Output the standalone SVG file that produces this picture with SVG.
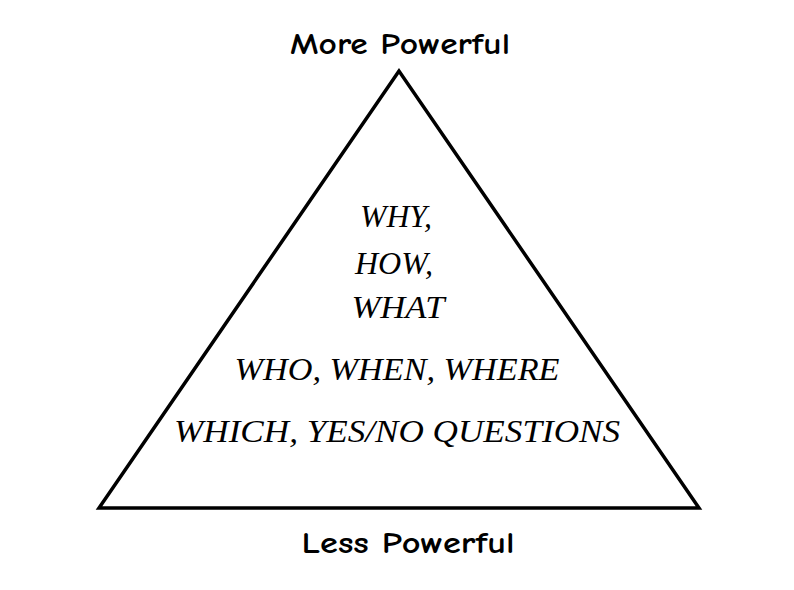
<svg xmlns="http://www.w3.org/2000/svg" width="794" height="590" viewBox="0 0 794 590">
<style>
.lbl{font-family:"Comic Neue","DejaVu Sans","Liberation Sans",sans-serif;font-size:30px;font-weight:bold;fill:#000;text-anchor:middle}
.q{font-family:"Liberation Serif","Times New Roman",serif;font-style:italic;fill:#000;text-anchor:middle}
</style>
<rect width="794" height="590" fill="#fff"/>
<g id="pyramid">
<polygon points="399,71 99,508 699,508" fill="#fff" stroke="#000" stroke-width="3.5" stroke-linejoin="miter"/>
</g>
<g id="top-label"><text class="lbl" x="400" y="54" textLength="220" lengthAdjust="spacingAndGlyphs">More Powerful</text></g>
<g id="bottom-label"><text class="lbl" x="408" y="553" textLength="213" lengthAdjust="spacingAndGlyphs">Less Powerful</text></g>
<g id="level-top">
<text class="q" x="396" y="227" font-size="31" textLength="72" lengthAdjust="spacingAndGlyphs">WHY,</text>
<text class="q" x="394" y="274" font-size="31" textLength="78" lengthAdjust="spacingAndGlyphs">HOW,</text>
<text class="q" x="398" y="318" font-size="31" textLength="93" lengthAdjust="spacingAndGlyphs">WHAT</text>
</g>
<g id="level-mid"><text class="q" x="397" y="380" font-size="31" textLength="325" lengthAdjust="spacingAndGlyphs">WHO, WHEN, WHERE</text></g>
<g id="level-bottom"><text class="q" x="397" y="442" font-size="32" textLength="446" lengthAdjust="spacingAndGlyphs">WHICH, YES/NO QUESTIONS</text></g>
<g id="connectors"></g>
</svg>
